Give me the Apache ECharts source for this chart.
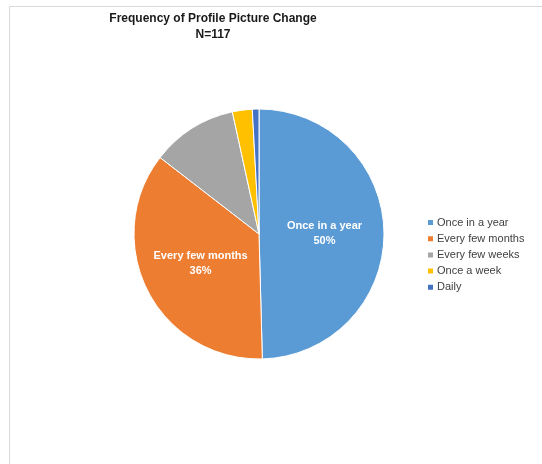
<!DOCTYPE html>
<html>
<head>
<meta charset="utf-8">
<script src="https://cdn.jsdelivr.net/npm/echarts@6/dist/echarts.min.js"></script>
<style>
  html, body { margin: 0; padding: 0; background: #fff; }
  #chart { width: 542px; height: 464px; }
</style>
</head>
<body>
<div id="chart"></div>
<script>
// Survey responses: how often respondents change their profile picture
const categories = ['Once in a year', 'Every few months', 'Every few weeks', 'Once a week', 'Daily'];
const counts = [58, 42, 13, 3, 1];
const colors = ['#5B9BD5', '#ED7D31', '#A5A5A5', '#FFC000', '#4472C4'];
const titleText = 'Frequency of Profile Picture Change';
const subtitleText = 'N=117';
// slices whose name and share are printed on the slice
const labelled = ['Once in a year', 'Every few months'];

const total = counts.reduce((a, b) => a + b, 0);
const font = '"Liberation Sans", "DejaVu Sans", sans-serif';

const chart = echarts.init(document.getElementById('chart'), null, { renderer: 'canvas' });

chart.setOption({
  animation: false,
  backgroundColor: '#ffffff',
  title: {
    text: titleText + '\n' + subtitleText,
    left: 208,
    top: 6,
    textAlign: 'center',
    textStyle: {
      fontFamily: font,
      fontSize: 12,
      fontWeight: 'bold',
      color: '#1a1a1a',
      lineHeight: 16,
      align: 'center'
    }
  },
  legend: {
    orient: 'vertical',
    left: 426,
    top: 217,
    padding: 0,
    itemWidth: 7,
    itemHeight: 7,
    itemGap: 5.2,
    icon: 'rect',
    data: categories,
    textStyle: {
      fontFamily: font,
      fontSize: 11,
      color: '#404040',
      padding: [0, 0, 0, -2]
    }
  },
  graphic: [
    {
      type: 'polyline',
      shape: { points: [[9.5, 464], [9.5, 6.5], [542, 6.5]] },
      style: { stroke: '#d9d9d9', lineWidth: 1, fill: null },
      silent: true
    }
  ],
  series: [{
    type: 'pie',
    center: [259, 234],
    radius: [0, 125],
    startAngle: 90,
    clockwise: true,
    itemStyle: { borderColor: '#ffffff', borderWidth: 1 },
    label: {
      show: true,
      position: 'inside',
      fontFamily: font,
      fontSize: 11,
      fontWeight: 'bold',
      color: '#ffffff',
      lineHeight: 15,
      formatter: p => labelled.includes(p.name)
        ? p.name + '\n' + Math.round(p.value / total * 100) + '%'
        : ''
    },
    labelLine: { show: false },
    emphasis: { disabled: true },
    data: categories.map((name, i) => ({
      name: name,
      value: counts[i],
      itemStyle: { color: colors[i] }
    }))
  }]
});
</script>
</body>
</html>
